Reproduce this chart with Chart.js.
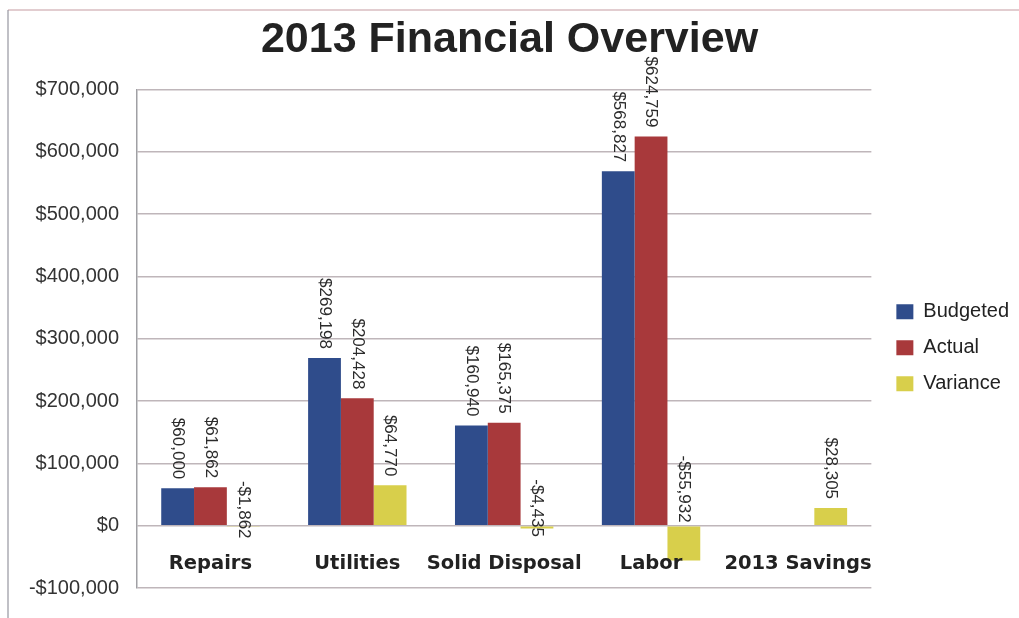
<!DOCTYPE html>
<html>
<head>
<meta charset="utf-8">
<script src="https://cdn.jsdelivr.net/npm/chart.js@4"></script>
<style>
  html, body { margin: 0; padding: 0; background: #fff; }
  #wrap { width: 1019px; height: 618px; }
</style>
</head>
<body>
<div id="wrap"><canvas id="overviewChart"></canvas></div>
<script>
const categories = ['Repairs', 'Utilities', 'Solid Disposal', 'Labor', '2013 Savings'];
const budgeted = [60000, 269198, 160940, 568827, null];
const actual = [61862, 204428, 165375, 624759, null];
const variance = [-1862, 64770, -4435, -55932, 28305];
const yMin = -100000;
const yMax = 700000;
const yStep = 100000;

function money(v) {
  return (v < 0 ? '-$' : '$') + Math.abs(v).toLocaleString('en-US');
}

Chart.defaults.font.family = '"Liberation Sans", Arial, sans-serif';

// white page plus the faint frame of the scanned sheet
const paper = {
  id: 'paper',
  beforeDraw(chart) {
    const ctx = chart.ctx;
    ctx.save();
    ctx.fillStyle = '#fff';
    ctx.fillRect(0, 0, chart.width, chart.height);
    ctx.strokeStyle = 'rgba(200,160,165,0.7)';
    ctx.lineWidth = 1.5;
    ctx.beginPath();
    ctx.moveTo(8, 10);
    ctx.lineTo(chart.width, 10);
    ctx.stroke();
    ctx.strokeStyle = 'rgba(150,150,160,0.8)';
    ctx.beginPath();
    ctx.moveTo(8, 10);
    ctx.lineTo(8, chart.height);
    ctx.stroke();
    ctx.restore();
  }
};

// vertical value labels on each bar
const barLabels = {
  id: 'barLabels',
  afterDatasetsDraw(chart) {
    const ctx = chart.ctx;
    const zeroY = chart.scales.y.getPixelForValue(0);
    ctx.save();
    ctx.font = '17px "Liberation Sans", Arial, sans-serif';
    ctx.fillStyle = '#2b2b2b';
    ctx.textAlign = 'right';
    ctx.textBaseline = 'middle';
    chart.data.datasets.forEach((ds, i) => {
      chart.getDatasetMeta(i).data.forEach((bar, j) => {
        const v = ds.data[j];
        if (v === null || v === undefined) return;
        let end;
        if (v >= 0) end = bar.y - 9;
        else end = zeroY + 14 - Math.min(bar.y - zeroY, 17);
        ctx.save();
        ctx.translate(bar.x, end);
        ctx.rotate(Math.PI / 2);
        ctx.fillText(money(v), 0, 0);
        ctx.restore();
      });
    });
    ctx.restore();
  }
};

new Chart(document.getElementById('overviewChart'), {
  type: 'bar',
  data: {
    labels: categories,
    datasets: [
      { label: 'Budgeted', data: budgeted, backgroundColor: '#2f4c8b' },
      { label: 'Actual', data: actual, backgroundColor: '#a8393b' },
      { label: 'Variance', data: variance, backgroundColor: '#d8cf4b' }
    ]
  },
  options: {
    responsive: true,
    maintainAspectRatio: false,
    animation: false,
    devicePixelRatio: 1,
    datasets: { bar: { barPercentage: 1, categoryPercentage: 0.67 } },
    layout: { padding: { left: 0, right: 0, top: 0, bottom: 21 } },
    plugins: {
      title: {
        display: true,
        text: '2013 Financial Overview',
        color: '#222',
        font: { size: 43, weight: 'bold' },
        padding: { top: 14, bottom: 24 }
      },
      legend: {
        position: 'right',
        fullSize: false,
        title: { display: true, text: ' ', font: { size: 10 }, padding: 3 },
        labels: {
          boxWidth: 17,
          boxHeight: 15,
          padding: 16,
          color: '#222',
          font: { size: 20 }
        }
      },
      tooltip: { enabled: false }
    },
    scales: {
      x: {
        position: { y: 0 },
        grid: { display: false, drawTicks: false },
        border: { display: false },
        ticks: {
          z: 1,
          color: '#222',
          padding: 27,
          maxRotation: 0,
          minRotation: 0,
          autoSkip: false,
          font: { family: '"DejaVu Sans", Verdana, sans-serif', size: 19.5, weight: 'bold' }
        }
      },
      y: {
        min: yMin,
        max: yMax,
        ticks: {
          stepSize: yStep,
          padding: 18,
          color: '#333',
          font: { size: 20 },
          callback: v => money(v)
        },
        grid: { color: '#bfb6ba', lineWidth: 1.5, drawTicks: false },
        border: { color: '#a0a0a4', width: 1.5 },
        afterFit(scale) { scale.width = 137; }
      },
      gap: {
        type: 'linear',
        position: 'right',
        grid: { display: false, drawTicks: false },
        border: { display: false },
        ticks: { display: false },
        afterFit(scale) { scale.width = 9; }
      }
    }
  },
  plugins: [paper, barLabels]
});
</script>
</body>
</html>
